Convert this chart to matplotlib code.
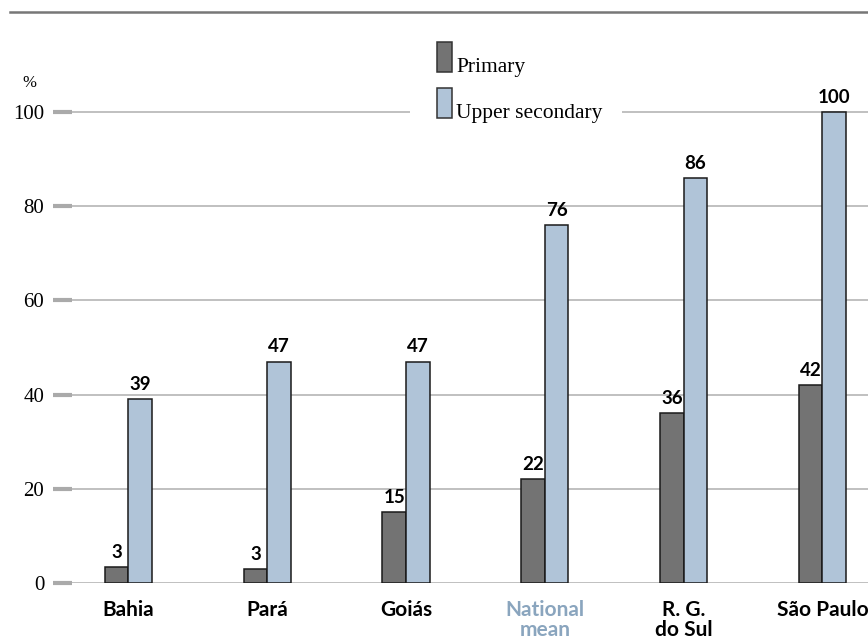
import matplotlib.pyplot as plt
from matplotlib.lines import Line2D
from matplotlib.patches import Rectangle

# data
regions = ["Bahia", "Pará", "Goiás", "National\nmean", "R. G.\ndo Sul", "São Paulo"]
primary = [3.4, 2.9, 15, 22, 36, 42]
upper_secondary = [39, 47, 47, 76, 86, 100]
yticks = [0, 20, 40, 60, 80, 100]
series_names = ["Primary", "Upper secondary"]

c_primary = "#737373"
c_upper = "#b0c4d8"
c_national = "#8aa5be"
serif = "Liberation Serif"
sans = "Lato"

fig = plt.figure(figsize=(8.68, 6.4), dpi=100)
# axes: left edge at 72px, zero line at 583px, 4.71 px per unit
ax = fig.add_axes([72 / 868, 57 / 640, 796 / 868, 110 * 4.71 / 640])
ax.set_xlim(-0.407, 5.328)
ax.set_ylim(0, 110)

w = 0.17
x = list(range(len(regions)))
ax.bar([i - w / 2 for i in x], primary, width=w, color=c_primary,
       edgecolor="#1a1a1a", linewidth=1.1, zorder=3)
ax.bar([i + w / 2 for i in x], upper_secondary, width=w, color=c_upper,
       edgecolor="#1a1a1a", linewidth=1.1, zorder=3)

for i in x:
    ax.annotate("%.0f" % primary[i], (i - w / 2, primary[i]), xytext=(0, 4.5),
                textcoords="offset points", ha="center", va="bottom",
                fontsize=13.5, fontweight="bold", family=sans)
    ax.annotate("%.0f" % upper_secondary[i], (i + w / 2, upper_secondary[i]),
                xytext=(0, 4.5), textcoords="offset points", ha="center",
                va="bottom", fontsize=13.5, fontweight="bold", family=sans)

for s in ax.spines.values():
    s.set_visible(False)

ax.set_yticks(yticks)
ax.set_yticklabels([str(v) for v in yticks], family=serif, fontsize=15)
ax.tick_params(axis="y", length=14, width=3, color="#aaaaaa", pad=6)
ax.yaxis.grid(True, color="#bbbbbb", linewidth=1.3, zorder=0)
ax.set_axisbelow(True)

ax.set_xticks(x)
ax.set_xticklabels(regions, family=sans, fontweight="bold", fontsize=15,
                   linespacing=1.0)
ax.tick_params(axis="x", length=0, pad=12)
ax.get_xticklabels()[3].set_color(c_national)

fig.text(22 / 868, 1 - 83 / 640, "%", family=serif, fontsize=12,
         ha="left", va="center")

fig.add_artist(Line2D([10 / 868, 1], [1 - 12 / 640, 1 - 12 / 640],
                      color="#777777", linewidth=1.8))

# legend drawn by hand: tall swatches with the text sitting on their base
fig.add_artist(Rectangle((410 / 868, 1 - 128 / 640), 212 / 868, 96 / 640,
                         transform=fig.transFigure, facecolor="white",
                         edgecolor="none", zorder=4))
for k, (name, col) in enumerate(zip(series_names, [c_primary, c_upper])):
    top = 42 + 46 * k
    fig.add_artist(Rectangle((437 / 868, 1 - (top + 30) / 640), 15 / 868,
                             30 / 640, transform=fig.transFigure,
                             facecolor=col, edgecolor="#333333",
                             linewidth=1.1, zorder=5))
    fig.text(456 / 868, 1 - (top + 30) / 640, name, family=serif,
             fontsize=15.5, ha="left", va="baseline", zorder=6)

fig.savefig("out.png", dpi=100)
